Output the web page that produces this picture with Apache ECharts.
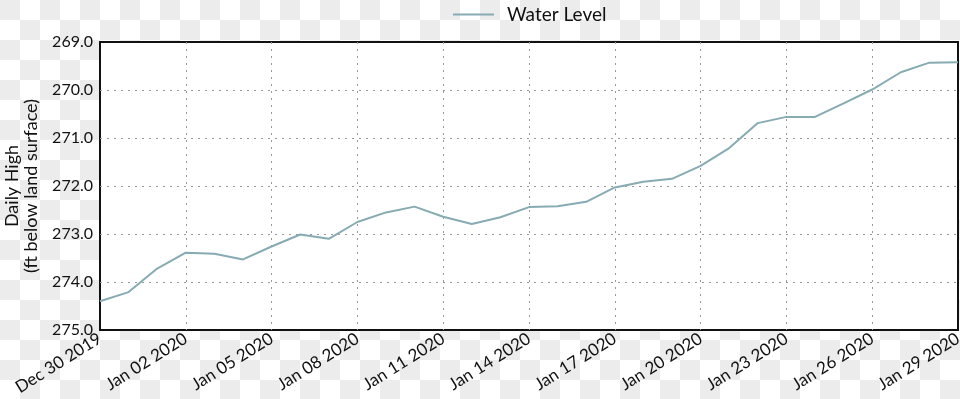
<!DOCTYPE html>
<html>
<head>
<meta charset="utf-8">
<script src="https://cdn.jsdelivr.net/npm/echarts@6/dist/echarts.min.js"></script>
<style>
    html, body {
        margin: 0;
        padding: 0;
        width: 960px;
        height: 399px;
        background-color: #ffffff;
        background-image: conic-gradient(#ffffff 25%, #ececec 0 50%, #ffffff 0 75%, #ececec 0);
        background-size: 40px 40px;
    }
    #chart {
        width: 960px;
        height: 399px;
    }
</style>
</head>
<body>
<div id="chart"></div>
<script>
    // daily dates, Dec 30 2019 .. Jan 29 2020
    var dates = [
        'Dec 30 2019', 'Dec 31 2019', 'Jan 01 2020', 'Jan 02 2020', 'Jan 03 2020', 'Jan 04 2020',
        'Jan 05 2020', 'Jan 06 2020', 'Jan 07 2020', 'Jan 08 2020', 'Jan 09 2020', 'Jan 10 2020',
        'Jan 11 2020', 'Jan 12 2020', 'Jan 13 2020', 'Jan 14 2020', 'Jan 15 2020', 'Jan 16 2020',
        'Jan 17 2020', 'Jan 18 2020', 'Jan 19 2020', 'Jan 20 2020', 'Jan 21 2020', 'Jan 22 2020',
        'Jan 23 2020', 'Jan 24 2020', 'Jan 25 2020', 'Jan 26 2020', 'Jan 27 2020', 'Jan 28 2020',
        'Jan 29 2020'
    ];
    // ft below land surface
    var waterLevel = [
        274.40, 274.21, 273.72, 273.39, 273.41, 273.53,
        273.26, 273.01, 273.10, 272.75, 272.55, 272.43,
        272.64, 272.79, 272.65, 272.44, 272.42, 272.33,
        272.03, 271.91, 271.85, 271.58, 271.21, 270.69,
        270.56, 270.56, 270.28, 269.99, 269.63, 269.43,
        269.42
    ];
    var yMin = 269;
    var yMax = 275;

    var FONT = 'Lato, "Open Sans", sans-serif';
    var charts = echarts.init(document.getElementById('chart'));

    var option = {
        backgroundColor: 'transparent',
        animation: false,
        textStyle: { fontFamily: FONT },
        legend: {
            top: 0,
            left: 448,
            itemWidth: 41,
            itemHeight: 14,
            itemGap: 10,
            icon: 'path://M0,6 L40,6 L40,8 L0,8 Z',
            textStyle: { fontFamily: FONT, fontSize: 19, color: '#111', padding: [0, 0, 0, 8] },
            data: ['Water Level']
        },
        grid: {
            left: 100,
            right: 2,
            top: 42,
            bottom: 69,
            containLabel: false,
            outerBoundsMode: 'none',
            show: true,
            backgroundColor: '#fff',
            borderColor: '#111',
            borderWidth: 2
        },
        xAxis: {
            type: 'category',
            data: dates,
            boundaryGap: false,
            axisLine: { show: false },
            axisTick: { show: false },
            axisLabel: {
                interval: 2,
                rotate: 32,
                margin: 7,
                fontFamily: FONT,
                fontSize: 17,
                color: '#111'
            },
            splitLine: {
                show: true,
                interval: 2,
                showMinLine: false,
                showMaxLine: false,
                lineStyle: { color: '#999', type: [2, 5], width: 1 }
            }
        },
        yAxis: {
            type: 'value',
            inverse: true,
            min: yMin,
            max: yMax,
            interval: 1,
            name: 'Daily High\n(ft below land surface)',
            nameLocation: 'middle',
            nameGap: 59,
            nameTextStyle: { fontFamily: FONT, fontSize: 18, color: '#111', lineHeight: 19 },
            axisLine: { show: false },
            axisTick: { show: false },
            axisLabel: {
                margin: 7,
                fontFamily: FONT,
                fontSize: 16,
                color: '#111',
                formatter: function (v) { return v.toFixed(1); }
            },
            splitLine: {
                show: true,
                showMinLine: false,
                showMaxLine: false,
                lineStyle: { color: '#999', type: [2, 5], width: 1 }
            }
        },
        series: [{
            name: 'Water Level',
            type: 'line',
            data: waterLevel,
            showSymbol: false,
            symbol: 'none',
            lineStyle: { color: '#86abb2', width: 2 },
            itemStyle: { color: '#86abb2' }
        }]
    };
    charts.setOption(option);
</script>
</body>
</html>
